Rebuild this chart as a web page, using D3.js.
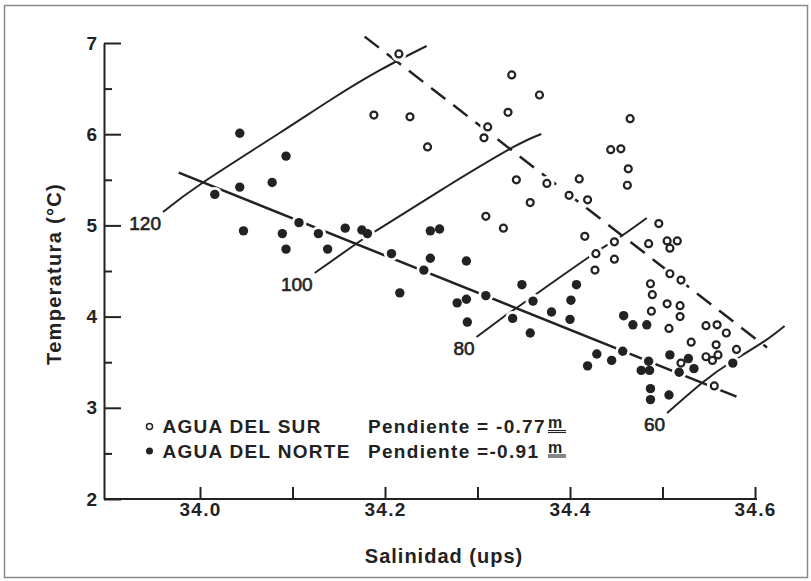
<!DOCTYPE html>
<html>
<head>
<meta charset="utf-8">
<script src="https://cdn.jsdelivr.net/npm/d3@7"></script>
<style>
  html, body { margin: 0; padding: 0; background: #fff; }
  svg { display: block; }
  text { font-family: "Liberation Sans", Arial, Helvetica, sans-serif; fill: #222; }
</style>
</head>
<body>
<svg id="chart" width="811" height="581"></svg>
<script>
// Salinity (ups) and temperature (°C) of each station
const aguaSur = [
  [34.215,6.88],[34.337,6.65],[34.367,6.43],[34.188,6.21],[34.227,6.19],[34.333,6.24],
  [34.311,6.08],[34.307,5.96],[34.246,5.86],[34.342,5.50],[34.375,5.46],[34.410,5.51],
  [34.399,5.33],[34.419,5.28],[34.357,5.25],[34.309,5.10],[34.328,4.97],[34.416,4.88],
  [34.428,4.69],[34.427,4.51],[34.444,5.83],[34.455,5.84],[34.465,6.17],[34.463,5.62],
  [34.462,5.44],[34.496,5.02],[34.485,4.80],[34.505,4.83],[34.516,4.83],[34.508,4.75],
  [34.448,4.82],[34.448,4.63],[34.508,4.47],[34.520,4.40],[34.487,4.36],[34.489,4.24],
  [34.505,4.14],[34.519,4.12],[34.519,4.00],[34.488,4.06],[34.507,3.87],[34.547,3.90],
  [34.559,3.91],[34.569,3.82],[34.531,3.72],[34.558,3.69],[34.580,3.64],[34.547,3.56],
  [34.554,3.52],[34.560,3.58],[34.520,3.49],[34.556,3.24]
];
const aguaNorte = [
  [34.043,6.01],[34.093,5.76],[34.078,5.47],[34.043,5.42],[34.016,5.34],[34.047,4.94],
  [34.089,4.91],[34.093,4.74],[34.107,5.03],[34.128,4.91],[34.138,4.74],[34.157,4.97],
  [34.175,4.95],[34.181,4.91],[34.249,4.94],[34.259,4.96],[34.207,4.69],[34.249,4.64],
  [34.288,4.61],[34.242,4.51],[34.216,4.26],[34.278,4.15],[34.288,4.19],[34.309,4.23],
  [34.289,3.94],[34.348,4.35],[34.360,4.17],[34.338,3.98],[34.357,3.82],[34.380,4.05],
  [34.401,4.18],[34.407,4.35],[34.400,3.97],[34.429,3.59],[34.419,3.46],[34.445,3.52],
  [34.457,3.62],[34.458,4.01],[34.468,3.91],[34.483,3.91],[34.485,3.51],[34.477,3.41],
  [34.486,3.41],[34.487,3.21],[34.487,3.09],[34.507,3.14],[34.508,3.58],[34.518,3.39],
  [34.528,3.54],[34.534,3.43],[34.576,3.49]
];

// Fitted T-S lines
const rectaSur   = [[34.178,7.07],[34.613,3.66]];
const rectaNorte = [[33.977,5.578],[34.580,3.122]];

// Thermosteric anomaly isolines (cl/t)
const iso120 = [[33.960,5.147],[34.004,5.476],[34.086,6.013],[34.141,6.375],[34.195,6.704],[34.245,6.967]];
const iso100 = [[34.124,4.478],[34.170,4.807],[34.195,4.971],[34.266,5.421],[34.337,5.849],[34.369,6.002]];
const iso80  = [[34.299,3.776],[34.328,3.996],[34.342,4.094],[34.419,4.643],[34.454,4.873],[34.483,5.081]];
const iso60  = [[34.505,2.943],[34.544,3.283],[34.576,3.513],[34.609,3.722],[34.632,3.897]];
const isoEtiquetas = ["120","100","80","60"];

// Axis ticks
const xTicks = [34.0,34.1,34.2,34.3,34.4,34.5,34.6];
const xTickLabels = ["34.0","","34.2","","34.4","","34.6"];
const yTicks = [2,3,4,5,6,7];
const yMinorTicks = [2.5,3.5,4.5,5.5,6.5];

// Legend
const leyendaNombres = ["AGUA DEL SUR","AGUA DEL NORTE"];
const leyendaPendientes = ["Pendiente = -0.77","Pendiente =-0.91"];
const leyendaUnidad = "m";

const ink = "#222";
const svg = d3.select("#chart");

const x = d3.scaleLinear().domain([34.0, 34.6]).range([200, 755]);
const y = d3.scaleLinear().domain([2, 7]).range([499, 43]);
const axisLeftX = 104, axisRightX = 757;

// outer frame
svg.append("rect")
  .attr("x", 4.5).attr("y", 5.5).attr("width", 803).attr("height", 572)
  .attr("fill", "none").attr("stroke", "#8a8a8a").attr("stroke-width", 1.5);

// x axis
const gx = svg.append("g").attr("transform", `translate(0,${y(2)})`)
  .call(d3.axisBottom(x).tickValues(xTicks).tickSizeInner(-12).tickSizeOuter(0)
        .tickPadding(4).tickFormat((d, i) => xTickLabels[i]));
gx.select(".domain").remove();
gx.selectAll(".tick line").attr("stroke", ink).attr("stroke-width", 2);
gx.selectAll(".tick text").attr("fill", ink)
  .style("font-size", "19px").style("font-weight", "bold").style("letter-spacing", "1.3px")
  .style("font-family", '"Liberation Sans", Arial, sans-serif');
svg.append("line")
  .attr("x1", axisLeftX).attr("x2", axisRightX).attr("y1", y(2)).attr("y2", y(2))
  .attr("stroke", ink).attr("stroke-width", 2);

// y axis
const gy = svg.append("g").attr("transform", `translate(${axisLeftX},0)`)
  .call(d3.axisLeft(y).tickValues(yTicks).tickSizeInner(-17).tickSizeOuter(0)
        .tickPadding(7).tickFormat(d3.format("d")));
gy.select(".domain").attr("stroke", ink).attr("stroke-width", 2);
gy.selectAll(".tick line").attr("stroke", ink).attr("stroke-width", 2);
gy.selectAll(".tick text").attr("fill", ink)
  .style("font-size", "19px").style("font-weight", "bold")
  .style("font-family", '"Liberation Sans", Arial, sans-serif');

const gyMinor = svg.append("g").attr("transform", `translate(${axisLeftX},0)`)
  .call(d3.axisLeft(y).tickValues(yMinorTicks).tickSizeInner(-8).tickSizeOuter(0).tickFormat(""));
gyMinor.select(".domain").remove();
gyMinor.selectAll(".tick line").attr("stroke", ink).attr("stroke-width", 2);

// axis titles
svg.append("text")
  .attr("x", 444).attr("y", 563).attr("text-anchor", "middle")
  .style("font-size", "20px").style("font-weight", "bold").style("letter-spacing", "1px")
  .text("Salinidad (ups)");
svg.append("text")
  .attr("transform", "translate(61,274) rotate(-90)").attr("text-anchor", "middle")
  .style("font-size", "20px").style("font-weight", "bold").style("letter-spacing", "1.3px")
  .text("Temperatura (°C)");

const line = d3.line().x(d => x(d[0])).y(d => y(d[1]));
const curve = d3.line().x(d => x(d[0])).y(d => y(d[1])).curve(d3.curveNatural);

// isolines with their labels
[iso120, iso100, iso80, iso60].forEach((pts, i) => {
  svg.append("path").attr("d", curve(pts))
    .attr("fill", "none").attr("stroke", ink).attr("stroke-width", 2);
  svg.append("text")
    .attr("x", x(pts[0][0]) - 2).attr("y", y(pts[0][1]) + 18)
    .attr("text-anchor", "end").style("font-size", "19px")
    .attr("stroke", ink).attr("stroke-width", 0.6)
    .text(isoEtiquetas[i]);
});

// fitted lines
svg.append("path").attr("d", line(rectaSur))
  .attr("fill", "none").attr("stroke", ink).attr("stroke-width", 2.5)
  .attr("stroke-dasharray", "18,10");
svg.append("path").attr("d", line(rectaNorte))
  .attr("fill", "none").attr("stroke", ink).attr("stroke-width", 2.5);

// white halos round every station, then the markers
const todas = aguaSur.concat(aguaNorte);
svg.append("g").selectAll("circle").data(todas).join("circle")
  .attr("cx", d => x(d[0])).attr("cy", d => y(d[1])).attr("r", 7.5).attr("fill", "#fff");
svg.append("g").selectAll("circle").data(aguaSur).join("circle")
  .attr("cx", d => x(d[0])).attr("cy", d => y(d[1])).attr("r", 3.5)
  .attr("fill", "#fff").attr("stroke", ink).attr("stroke-width", 2.2);
svg.append("g").selectAll("circle").data(aguaNorte).join("circle")
  .attr("cx", d => x(d[0])).attr("cy", d => y(d[1])).attr("r", 4.7)
  .attr("fill", ink);

// legend
const legend = svg.append("g");
leyendaNombres.forEach((nombre, i) => {
  const base = 433 + i * 24.5;
  if (i === 0) {
    legend.append("circle").attr("cx", 149.5).attr("cy", base - 6.5).attr("r", 3)
      .attr("fill", "#fff").attr("stroke", ink).attr("stroke-width", 1.5);
  } else {
    legend.append("circle").attr("cx", 149.5).attr("cy", base - 6.5).attr("r", 3.5)
      .attr("fill", ink);
  }
  legend.append("text").attr("x", 162.5).attr("y", base)
    .style("font-size", "19px").style("font-weight", "bold").style("letter-spacing", "1.3px")
    .text(nombre);
  legend.append("text").attr("x", 368).attr("y", base)
    .style("font-size", "19px").style("font-weight", "bold").style("letter-spacing", "1.3px")
    .style("white-space", "pre")
    .text(leyendaPendientes[i]);
  legend.append("text").attr("x", 548).attr("y", base - 5)
    .style("font-size", "16px").style("font-weight", "bold")
    .text(leyendaUnidad);
  [2.5, 0.5].forEach(off => {
    legend.append("line").attr("x1", 548).attr("x2", 566)
      .attr("y1", base - off).attr("y2", base - off)
      .attr("stroke", ink).attr("stroke-width", 1.1);
  });
});
</script>
</body>
</html>
